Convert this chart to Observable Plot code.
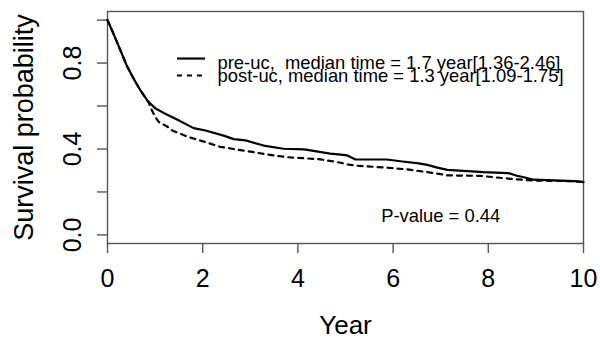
<!DOCTYPE html>
<html>
<head>
<meta charset="utf-8">
<script src="https://cdn.jsdelivr.net/npm/d3@7"></script>
<script src="https://cdn.jsdelivr.net/npm/@observablehq/plot@0.6"></script>
<style>
  html, body { margin: 0; padding: 0; background: white; }
  #chart svg { display: block; }
</style>
</head>
<body>
<div id="chart"></div>
<script>
// ---- data ----
const preTime = [0, 0.1, 0.27, 0.4, 0.55, 0.7, 0.85, 1.0, 1.18, 1.46, 1.81, 2.06, 2.44, 2.65, 2.9, 3.28, 3.7, 4.13, 4.68, 4.9, 5.04, 5.21, 5.87, 6.15, 6.5, 6.72, 6.93, 7.14, 7.9, 8.4, 8.47, 8.6, 8.68, 8.96, 9.8, 10];
const preSurv = [1.0, 0.95, 0.86, 0.79, 0.727, 0.67, 0.622, 0.59, 0.568, 0.537, 0.497, 0.486, 0.462, 0.446, 0.44, 0.416, 0.401, 0.398, 0.378, 0.374, 0.37, 0.351, 0.351, 0.343, 0.334, 0.326, 0.313, 0.303, 0.292, 0.288, 0.285, 0.275, 0.272, 0.257, 0.25, 0.246];
const postTime = [0, 0.1, 0.27, 0.4, 0.55, 0.7, 0.87, 0.9, 1.0, 1.08, 1.25, 1.36, 1.71, 2.06, 2.37, 3.07, 3.49, 3.77, 4.47, 4.9, 5.04, 5.25, 5.87, 6.3, 6.72, 7.0, 7.14, 7.83, 8.47, 8.96, 9.8, 10];
const postSurv = [1.0, 0.95, 0.86, 0.79, 0.727, 0.67, 0.615, 0.595, 0.55, 0.525, 0.505, 0.486, 0.455, 0.432, 0.41, 0.385, 0.37, 0.362, 0.352, 0.336, 0.328, 0.322, 0.313, 0.305, 0.292, 0.283, 0.277, 0.275, 0.261, 0.253, 0.25, 0.246];

const xTicks = [0, 2, 4, 6, 8, 10];
const yTicks = [0, 0.2, 0.4, 0.6, 0.8, 1.0];
const yTickLabels = ["0.0", "", "0.4", "", "0.8", ""];
const legendLabels = ["pre-uc,\u00a0 median time = 1.7 year[1.36-2.46]", "post-uc, median time = 1.3 year[1.09-1.75]"];
const pValueText = "P-value = 0.44";
const xTitle = "Year";
const yTitle = "Survival probability";

// ---- build tables ----
const pre = preTime.map((t, i) => ({t, s: preSurv[i]}));
const post = postTime.map((t, i) => ({t, s: postSurv[i]}));

// annotation placement (data units, like R's legend()/text())
const legendX = [1.47, 2.06];
const legendY = [0.821, 0.742];
const pValuePos = {x: 7, y: 0.088};

const font = "'Liberation Sans', Arial, Helvetica, sans-serif";
const dash = "5,5";

const plot = Plot.plot({
  width: 600,
  height: 343,
  marginLeft: 107,
  marginRight: 17,
  marginTop: 11,
  marginBottom: 100,
  x: {domain: [0, 10]},
  y: {domain: [-0.04, 1.04]},
  style: {fontFamily: font, fontSize: "25px", background: "white", color: "black"},
  marks: [
    Plot.frame({stroke: "#555", strokeWidth: 1.4}),
    Plot.axisX({ticks: xTicks, tickSize: 10, tickPadding: 16, tickFormat: d => String(d), label: null, stroke: "#555", strokeWidth: 1.4, fontSize: 25}),
    Plot.axisY({ticks: yTicks, tickSize: 10, tickPadding: 17, tickRotate: -90,
      tickFormat: d => yTickLabels[Math.round(d * 5)], label: null, stroke: "#555", strokeWidth: 1.4, fontSize: 25}),
    Plot.line(pre, {x: "t", y: "s", stroke: "black", strokeWidth: 2.2}),
    Plot.line(post, {x: "t", y: "s", stroke: "black", strokeWidth: 2.2, strokeDasharray: dash}),
    // legend
    Plot.ruleY([0], {y: () => legendY[0], x1: () => legendX[0], x2: () => legendX[1], stroke: "black", strokeWidth: 2.2}),
    Plot.ruleY([0], {y: () => legendY[1], x1: () => legendX[0], x2: () => legendX[1], stroke: "black", strokeWidth: 2.2, strokeDasharray: dash}),
    Plot.text([legendLabels[0]], {text: d => d, frameAnchor: "top-left", dx: 110, dy: 57, textAnchor: "start", lineAnchor: "bottom", fontSize: 18.4, fill: "black"}),
    Plot.text([legendLabels[1]], {text: d => d, frameAnchor: "top-left", dx: 110, dy: 70, textAnchor: "start", lineAnchor: "bottom", fontSize: 18.4, fill: "black"}),
    Plot.text([pValueText], {text: d => d, x: () => pValuePos.x, y: () => pValuePos.y, textAnchor: "middle", lineAnchor: "middle", fontSize: 18.4, fill: "black"}),
    // axis titles
    Plot.text([xTitle], {text: d => d, frameAnchor: "bottom", dy: 90, textAnchor: "middle", lineAnchor: "bottom", fontSize: 26, fill: "black"}),
    Plot.text([yTitle], {text: d => d, frameAnchor: "left", dx: -75, rotate: -90, textAnchor: "middle", lineAnchor: "bottom", fontSize: 27, fill: "black"})
  ]
});
document.getElementById("chart").appendChild(plot);
</script>
</body>
</html>
